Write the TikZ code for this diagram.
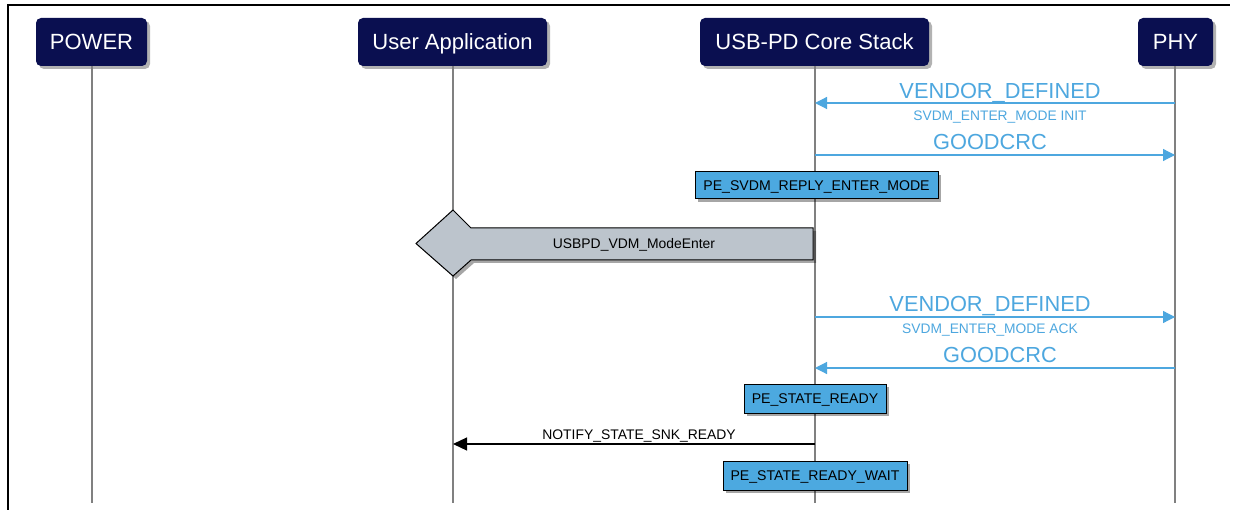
\documentclass[tikz,border=0pt]{standalone}
\usepackage{fontspec}
\setmainfont{Liberation Sans}
\usetikzlibrary{arrows.meta,shadows}
\definecolor{hdr}{HTML}{0A0F50}
\definecolor{msgblue}{HTML}{4DA7DF}
\definecolor{statefill}{HTML}{4CA9E0}
\definecolor{callfill}{HTML}{BCC4CC}
\definecolor{life}{HTML}{808080}
\begin{document}
\begin{tikzpicture}[x=1pt,y=-1pt,
  header/.style={fill=hdr, rounded corners=5pt, text=white, font=\fontsize{22}{26}\selectfont,
    minimum height=48pt, inner xsep=0pt, inner ysep=0pt, text height=15.7pt, text depth=0pt,
    drop shadow={shadow xshift=3pt, shadow yshift=-3pt, fill=black, opacity=0.3}},
  lifeline/.style={draw=life, line width=1.5pt},
  msg/.style={draw=msgblue, line width=1.2pt, -{Triangle[length=12pt,width=12pt]}},
  biglbl/.style={text=msgblue, font=\fontsize{21.8}{25}\selectfont, inner sep=0pt, text height=15.6pt, text depth=0pt},
  smalllbl/.style={text=msgblue, font=\fontsize{13.8}{16}\selectfont, inner sep=0pt, text height=9.9pt, text depth=0pt},
  statebox/.style={draw=black, line width=1pt, fill=statefill, font=\fontsize{14.1}{16}\selectfont,
    inner xsep=0pt, inner ysep=0pt, text height=10.1pt, text depth=0pt,
    drop shadow={shadow xshift=3pt, shadow yshift=-3pt, fill=black, opacity=0.35}},
  blackmsg/.style={draw=black, line width=1.2pt, -{Triangle[length=14pt,width=13pt]}},
  blacklbl/.style={text=black, font=\fontsize{13.9}{16}\selectfont, inner sep=0pt, text height=10pt, text depth=0pt}
]
\useasboundingbox (0,0) rectangle (1233,510);
\fill[white] (0,0) rectangle (1233,510);
% frame
\draw[line width=2.5pt, line cap=rect] (8,510) -- (8,5) -- (1229,5);

% headers
\node[header, minimum width=111pt] (power) at (91.5,42) {POWER};
\node[header, minimum width=189pt] (user) at (452.5,42) {User Application};
\node[header, minimum width=229pt] (core) at (814.5,42) {USB-PD Core Stack};
\node[header, minimum width=75pt] (phy) at (1175.5,42) {PHY};

% lifeline ends
\coordinate (powerEnd) at (92,503);
\coordinate (userEnd) at (453,503);
\coordinate (coreEnd) at (815,503);
\coordinate (phyEnd) at (1175,503);
\draw[lifeline] (92,66) -- (powerEnd);
\draw[lifeline] (453,66) -- (userEnd);
\draw[lifeline] (815,66) -- (coreEnd);
\draw[lifeline] (1175,66) -- (phyEnd);

% message points
\coordinate (phyA) at (1175,103);  \coordinate (coreA) at (815,103);
\coordinate (coreB) at (815,155);  \coordinate (phyB) at (1175,155);
\coordinate (coreC) at (815,317);  \coordinate (phyC) at (1175,317);
\coordinate (phyD) at (1175,368);  \coordinate (coreD) at (815,368);
\coordinate (coreE) at (815,444);  \coordinate (userE) at (453,444);

% VENDOR_DEFINED (INIT)
\draw[msg] (phyA) -- (coreA);
\node[biglbl] (vd1) at (1000,91) {VENDOR\_DEFINED};
\node[smalllbl] (vd1s) at (1000,115.5) {SVDM\_ENTER\_MODE INIT};

% GOODCRC
\draw[msg] (coreB) -- (phyB);
\node[biglbl] (gc1) at (990,142) {GOODCRC};

% state box
\node[statebox, minimum width=243pt, minimum height=27pt] (s1) at (816.5,185.5) {PE\_SVDM\_REPLY\_ENTER\_MODE};

% call shape
\filldraw[fill=callfill, draw=black, line width=1pt,
  drop shadow={shadow xshift=3pt, shadow yshift=-3pt, fill=black, opacity=0.35}]
  (813,228) -- (471,228) -- (453,210) -- (416,243.5) -- (453,276) -- (471,260) -- (813,260) -- cycle;
\node[blacklbl] (call) at (634,243.5) {USBPD\_VDM\_ModeEnter};

% VENDOR_DEFINED (ACK)
\draw[msg] (coreC) -- (phyC);
\node[biglbl] (vd2) at (990,304) {VENDOR\_DEFINED};
\node[smalllbl] (vd2s) at (990,328.5) {SVDM\_ENTER\_MODE ACK};

% GOODCRC
\draw[msg] (phyD) -- (coreD);
\node[biglbl] (gc2) at (1000,355) {GOODCRC};

% PE_STATE_READY
\node[statebox, minimum width=142pt, minimum height=29pt] (s2) at (815,398.5) {PE\_STATE\_READY};

% NOTIFY
\draw[blackmsg] (coreE) -- (userE);
\node[blacklbl] (notify) at (639,434) {NOTIFY\_STATE\_SNK\_READY};

% PE_STATE_READY_WAIT
\node[statebox, minimum width=184pt, minimum height=29pt] (s3) at (815,475.5) {PE\_STATE\_READY\_WAIT};
\end{tikzpicture}
\end{document}
